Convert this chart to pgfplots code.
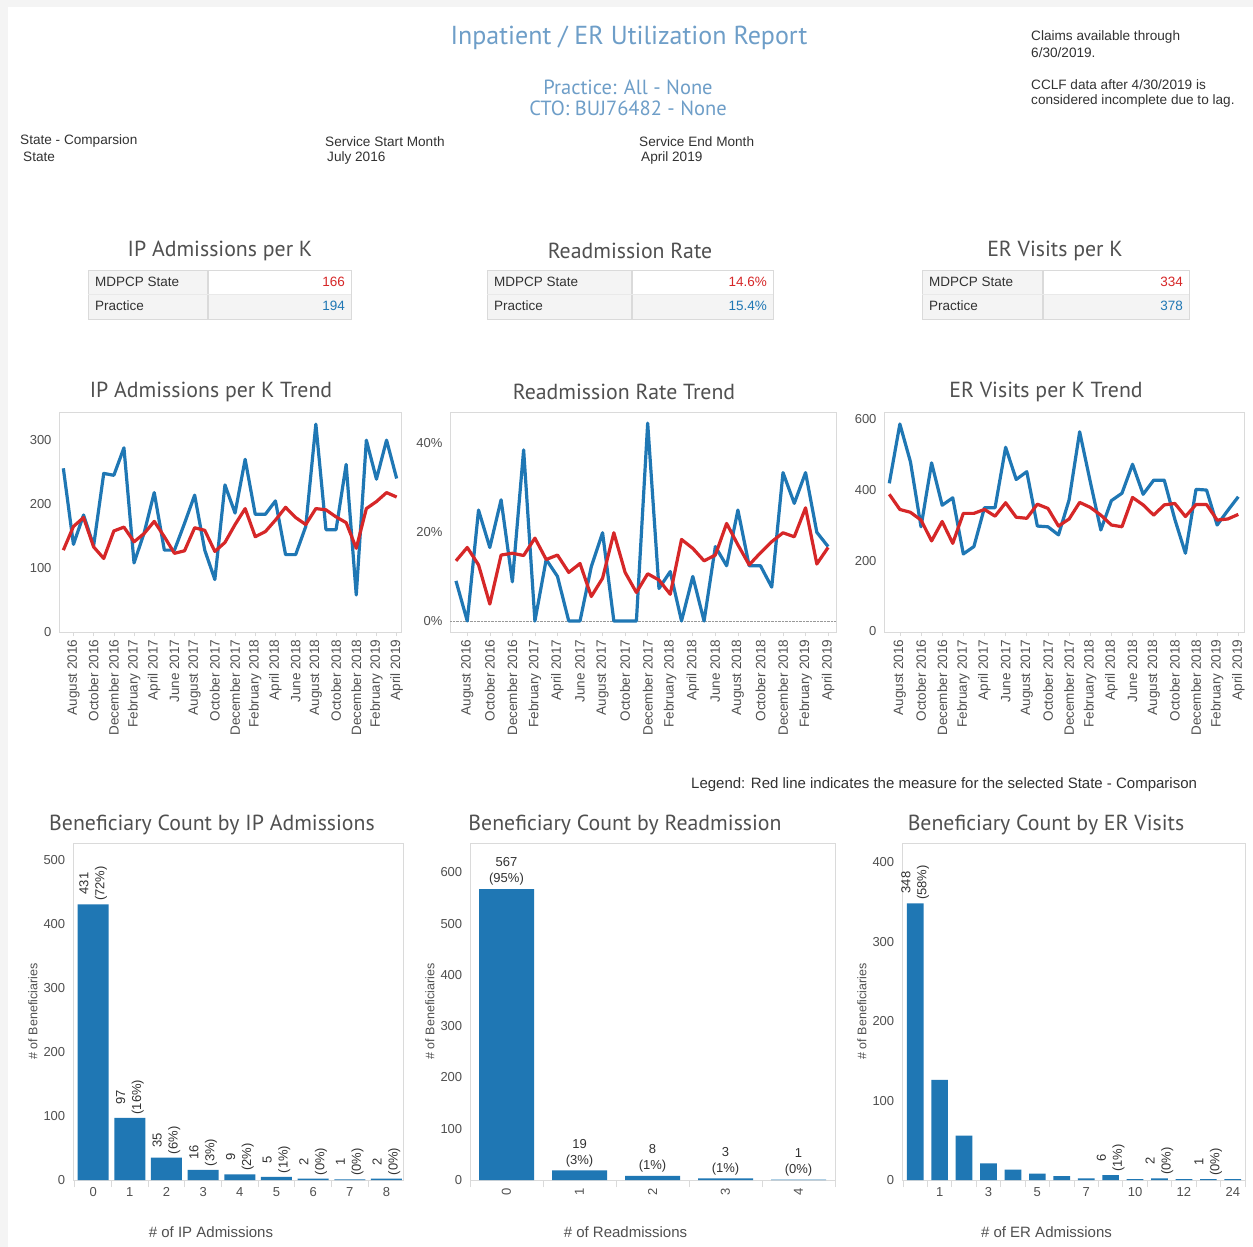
\documentclass[border=0pt]{standalone}
\usepackage{fontspec}
\setmainfont{Liberation Sans}
\newfontfamily\tfont{PT Sans}
\usepackage{pgfplots}
\usepackage{pgfplotstable}
\pgfplotsset{compat=1.18}
\definecolor{tblue}{RGB}{31,119,180}
\definecolor{tred}{RGB}{214,39,40}
\definecolor{hdr}{RGB}{110,158,200}
\definecolor{txt}{RGB}{80,80,80}
\definecolor{dark}{RGB}{50,50,50}
\definecolor{bord}{RGB}{218,218,218}
\definecolor{cellgray}{RGB}{244,244,244}

\pgfplotstableread{
i ipP ipS rrP rrS erP erS
0 256 128 9.0 13.5 419 388
1 137 165 0 16.5 587 345
2 183 179 24.9 12.6 480 337
3 135 133 16.5 3.8 296 315
4 248 115 27.2 14.8 477 256
5 245 158 8.8 15.2 357 311
6 288 164 38.4 14.7 378 249
7 108 141 0 18.6 219 334
8 155 154 13.8 13.8 240 334
9 218 173 10.0 14.8 350 345
10 128 149 0 10.9 350 326
11 128 123 0 12.9 521 364
12 170 127 12.2 5.5 430 323
13 214 163 19.8 9.6 452 320
14 128 159 0 19.8 298 360
15 82 126 0 10.9 296 348
16 230 140 0 6.4 273 298
17 186 168 44.4 10.6 372 318
18 270 193 7.3 9.2 565 365
19 184 149 11.1 6.0 424 351
20 184 157 0 18.3 287 329
21 205 175 10.0 16.3 370 301
22 121 195 0 13.5 391 296
23 121 179 16.7 14.8 473 379
24 165 168 12.4 21.9 388 358
25 325 193 24.9 17.1 428 329
26 160 191 12.4 12.6 428 358
27 160 180 12.4 15.3 317 362
28 262 171 7.6 17.8 221 325
29 58 131 33.3 19.8 402 359
30 300 193 26.4 18.9 400 359
31 239 204 33.3 25.4 301 315
32 300 218 19.9 12.8 342 318
33 240 211 16.7 16.5 381 331
}\trend

\newcommand{\fs}[1]{\fontsize{#1}{#1}\selectfont}

\pgfplotsset{
  dash/.style={scale only axis, anchor=north west,
    axis line style={draw=bord, line width=0.8pt},
    every tick label/.append style={font=\fs{13}, text=txt},
    /pgf/number format/assume math mode=true,
    ytick style={draw=none},
    tick pos=left,
  },
  trend/.style={dash,
    height=220pt,
    xtick={1,3,...,33},
    xticklabels={August 2016,October 2016,December 2016,February 2017,April 2017,June 2017,August 2017,October 2017,December 2017,February 2018,April 2018,June 2018,August 2018,October 2018,December 2018,February 2019,April 2019},
    x tick label style={rotate=90, anchor=east, font=\fs{13.5}},
    xtick style={draw=bord, line width=0.6pt},
    major tick length=4pt, tick align=outside,
  },
  bars/.style={dash, ybar, ymin=0, height=337pt,
    xtick={0,...,20},
    minor xtick={-0.5,0.5,...,20},
    xtick style={draw=none},
    minor x tick style={draw=bord, line width=0.8pt},
    minor tick length=7pt, tick align=outside,
    every axis y label/.style={at={([xshift=-40pt]axis description cs:0,0.5)}, rotate=90, anchor=center, font=\fs{12.5}, text=txt},
    every axis x label/.style={at={([xshift=-27pt,yshift=-43pt]axis description cs:0.5,0)}, anchor=north, font=\fs{15}, text=txt},
    ylabel={\# of Beneficiaries},
    point meta=explicit symbolic,
    nodes near coords,
    every node near coord/.append style={font=\fontsize{13}{16}\selectfont, text=dark, align=center},
  },
  tl/.style={line width=3.2pt, line join=round},
}

\begin{document}
\begin{tikzpicture}
\useasboundingbox (0,0) rectangle (1253pt,-1247pt);
\fill[gray!9] (0,0) rectangle (1253pt,-1247pt);
\fill[white] (8pt,-7pt) rectangle (1253pt,-1247pt);

% Header
\node[font=\tfont\fs{26}, text=hdr] at (629pt,-38pt) {Inpatient / ER Utilization Report};
\node[font=\tfont\fs{20.5}, text=hdr] at (628pt,-87pt) {Practice: All - None};
\node[font=\tfont\fs{20.5}, text=hdr] at (628pt,-108pt) {CTO: BUJ76482 - None};
\begin{scope}[every node/.style={anchor=west, font=\fs{13.6}, text=dark, inner sep=0pt}]
\node at (1031pt,-37pt) {Claims available through};
\node at (1031pt,-53pt) {6/30/2019.};
\node at (1031pt,-85pt) {CCLF data after 4/30/2019 is};
\node at (1031pt,-101pt) {considered incomplete due to lag.};
\node at (20pt,-141pt) {State - Comparsion};
\node at (23pt,-157pt) {State};
\node at (325pt,-142pt) {Service Start Month};
\node at (327pt,-158pt) {July 2016};
\node at (639pt,-142pt) {Service End Month};
\node at (641pt,-158pt) {April 2019};
\node[font=\fs{15}] at (691pt,-785pt) {Legend: Red line indicates the measure for the selected State - Comparison};
\end{scope}

% KPI titles and chart titles
\begin{scope}[every node/.style={font=\tfont\fs{21.8}, text=txt}]
\node at (220pt,-251pt) {IP Admissions per K};
\node at (630pt,-251pt) {Readmission Rate};
\node at (1055pt,-251pt) {ER Visits per K};
\node at (211pt,-392pt) {IP Admissions per K Trend};
\node at (624pt,-392pt) {Readmission Rate Trend};
\node at (1046pt,-392pt) {ER Visits per K Trend};
\node at (212pt,-825pt) {Beneficiary Count by IP Admissions};
\node at (625pt,-825pt) {Beneficiary Count by Readmission};
\node at (1046pt,-825pt) {Beneficiary Count by ER Visits};
\end{scope}

\foreach \xa/\xd/\xb/\va/\vb in {88/208/351/166/194, 487/632/773/14.6\%/15.4\%, 922/1043/1189/334/378}{
  \fill[cellgray] (\xa pt,-270pt) rectangle (\xd pt,-319pt);
  \fill[cellgray] (\xd pt,-294pt) rectangle (\xb pt,-319pt);
  \draw[bord, line width=0.8pt] (\xa pt,-270pt) rectangle (\xb pt,-319pt);
  \draw[bord, line width=1.2pt] (\xd pt,-270pt) -- (\xd pt,-319pt);
  \draw[bord!60, line width=0.6pt] (\xa pt,-294pt) -- (\xb pt,-294pt);
  \node[anchor=west, font=\fs{13.5}, text=dark, inner sep=0pt] at (\xa pt+7pt,-282pt) {MDPCP State};
  \node[anchor=west, font=\fs{13.5}, text=dark, inner sep=0pt] at (\xa pt+7pt,-306pt) {Practice};
  \node[anchor=east, font=\fs{13.5}, text=tred, inner sep=0pt] at (\xb pt-6pt,-282pt) {\va};
  \node[anchor=east, font=\fs{13.5}, text=tblue, inner sep=0pt] at (\xb pt-6pt,-306pt) {\vb};
}

% Trend charts
\begin{axis}[trend, at={(59pt,-412pt)}, width=342pt,
  xmin=-0.43, xmax=33.43, ymin=0, ymax=344, ytick={0,100,200,300}]
\addplot[tl, tblue] table[x=i, y=ipP] {\trend};
\addplot[tl, tred] table[x=i, y=ipS] {\trend};
\end{axis}

\begin{axis}[trend, at={(450pt,-412pt)}, width=386pt,
  xmin=-0.53, xmax=33.7, ymin=-2.47, ymax=46.9, ytick={0,20,40},
  yticklabel={\pgfmathprintnumber{\tick}\%},
  extra y ticks={0}, extra y tick labels={},
  extra y tick style={grid=major, major grid style={densely dotted, gray!80, line width=0.9pt}}]
\addplot[tl, tblue] table[x=i, y=rrP] {\trend};
\addplot[tl, tred] table[x=i, y=rrS] {\trend};
\end{axis}

\begin{axis}[trend, at={(884pt,-412pt)}, width=360pt,
  xmin=-0.5, xmax=33.54, ymin=-2, ymax=621, ytick={0,200,400,600}]
\addplot[tl, tblue] table[x=i, y=erP] {\trend};
\addplot[tl, tred] table[x=i, y=erS] {\trend};
\end{axis}

% Bar charts
\begin{axis}[bars, at={(73pt,-843pt)}, width=330pt,
  xmin=-0.55, xmax=8.45, ymax=527, ytick={0,100,...,500},
  xticklabels={0,1,2,3,4,5,6,7,8},
  xlabel={\# of IP Admissions}, bar width=31pt,
  every node near coord/.append style={rotate=90, anchor=west}]
\addplot[fill=tblue, draw=none] coordinates {
 (0,431) [431\\(72\%)] (1,97) [97\\(16\%)] (2,35) [35\\(6\%)] (3,16) [16\\(3\%)]
 (4,9) [9\\(2\%)] (5,5) [5\\(1\%)] (6,2) [2\\(0\%)] (7,1) [1\\(0\%)] (8,2) [2\\(0\%)]};
\end{axis}

\begin{axis}[bars, at={(470pt,-843pt)}, width=365pt,
  xmin=-0.5, xmax=4.5, ymax=657, ytick={0,100,...,600},
  xticklabels={0,1,2,3,4},
  x tick label style={rotate=90, anchor=east},
  xlabel={\# of Readmissions}, bar width=55pt,
  every node near coord/.append style={anchor=south}]
\addplot[fill=tblue, draw=none] coordinates {
 (0,567) [567\\(95\%)] (1,19) [19\\(3\%)] (2,8) [8\\(1\%)] (3,3) [3\\(1\%)] (4,1) [1\\(0\%)]};
\end{axis}

\begin{axis}[bars, at={(902pt,-843pt)}, width=343pt,
  xmin=-0.54, xmax=13.5, ymax=424, ytick={0,100,...,400},
  xticklabels={,1,,3,,5,,7,,10,,12,,24},
  xlabel={\# of ER Admissions}, bar width=16.7pt,
  every node near coord/.append style={rotate=90, anchor=west}]
\addplot[fill=tblue, draw=none] coordinates {
 (0,348) [348\\(58\%)] (1,126) [] (2,56) [] (3,21) [] (4,13) [] (5,8) []
 (6,5) [] (7,2) [] (8,6) [6\\(1\%)] (9,1) [] (10,2) [2\\(0\%)] (11,1) []
 (12,1) [1\\(0\%)] (13,1) []};
\end{axis}
\end{tikzpicture}
\end{document}
